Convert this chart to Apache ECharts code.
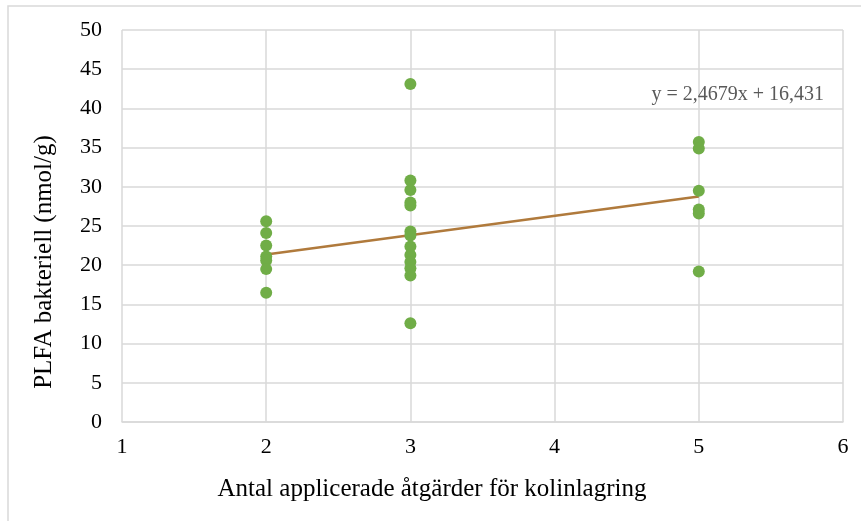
<!DOCTYPE html>
<html>
<head>
<meta charset="utf-8">
<script src="https://cdn.jsdelivr.net/npm/echarts@6/dist/echarts.min.js"></script>
<style>
  html, body { margin: 0; padding: 0; background: #fff; }
  #chart { width: 861px; height: 521px; }
</style>
</head>
<body>
<div id="chart"></div>
<script>
// Number of applied measures (x) and bacterial PLFA (y) per sample
const measuresAt2 = [25.6, 24.1, 22.5, 21.1, 20.6, 19.5, 16.5];
const measuresAt3 = [43.1, 30.8, 29.6, 28.0, 27.6, 24.3, 23.8, 22.4, 21.3, 20.4, 19.6, 18.7, 12.6];
const measuresAt5 = [35.7, 34.9, 29.5, 27.1, 26.6, 19.2];

// Linear trendline as stated in the equation label
const trendSlope = 2.4679;
const trendIntercept = 16.431;
const trendRange = [2, 5];
const trendLabel = 'y = 2,4679x + 16,431';

const xTitle = 'Antal applicerade åtgärder för kolinlagring';
const yTitle = 'PLFA bakteriell (nmol/g)';

const points = [].concat(
  measuresAt2.map(v => [2, v]),
  measuresAt3.map(v => [3, v]),
  measuresAt5.map(v => [5, v])
);
const trendPoints = trendRange.map(x => [x, trendSlope * x + trendIntercept]);

const font = '"Liberation Serif", "DejaVu Serif", serif';
const gridColor = '#d9d9d9';

const chart = echarts.init(document.getElementById('chart'), null, { renderer: 'canvas' });
chart.setOption({
  animation: false,
  backgroundColor: '#ffffff',
  grid: { left: 122, right: 18, top: 30, bottom: 99 },
  xAxis: {
    type: 'value',
    min: 1, max: 6, interval: 1,
    axisLine: { show: true, lineStyle: { color: gridColor, width: 1.5 } },
    axisTick: { show: false },
    axisLabel: { fontFamily: font, fontSize: 22, color: '#000', margin: 14 },
    splitLine: { show: true, lineStyle: { color: gridColor, width: 1.5 } }
  },
  yAxis: {
    type: 'value',
    min: 0, max: 50, interval: 5,
    axisLine: { show: false },
    axisTick: { show: false },
    axisLabel: { fontFamily: font, fontSize: 22, color: '#000', margin: 20 },
    splitLine: { show: true, lineStyle: { color: gridColor, width: 1.5 } }
  },
  series: [
    {
      type: 'line',
      data: trendPoints,
      symbol: 'none',
      lineStyle: { color: '#b07a3c', width: 2.5 },
      z: 3
    },
    {
      type: 'scatter',
      data: points,
      symbol: 'circle',
      symbolSize: 12,
      itemStyle: { color: '#70ad47', opacity: 1 },
      z: 4
    }
  ]
});

// Equation label placed in chart coordinates above the end of the trendline
const labelPos = chart.convertToPixel({ gridIndex: 0 }, [5.27, 41.7]);
chart.setOption({
  graphic: [{
    type: 'rect',
    shape: { x: 8, y: 6, width: 900, height: 600 },
    style: { fill: 'none', stroke: gridColor, lineWidth: 1.5 },
    silent: true
  }, {
    type: 'text',
    x: labelPos[0],
    y: labelPos[1],
    style: {
      text: trendLabel,
      font: '20px ' + font,
      fill: '#595959',
      align: 'center',
      verticalAlign: 'middle'
    },
    silent: true
  }, {
    // x-axis title
    type: 'text',
    x: 432,
    y: 489,
    style: {
      text: xTitle,
      font: '25px ' + font,
      fill: '#000',
      align: 'center',
      verticalAlign: 'middle'
    },
    silent: true
  }, {
    // y-axis title, rotated to read bottom-up
    type: 'text',
    x: 44,
    y: 262,
    rotation: Math.PI / 2,
    style: {
      text: yTitle,
      font: '25px ' + font,
      fill: '#000',
      align: 'center',
      verticalAlign: 'middle'
    },
    silent: true
  }]
});
</script>
</body>
</html>
